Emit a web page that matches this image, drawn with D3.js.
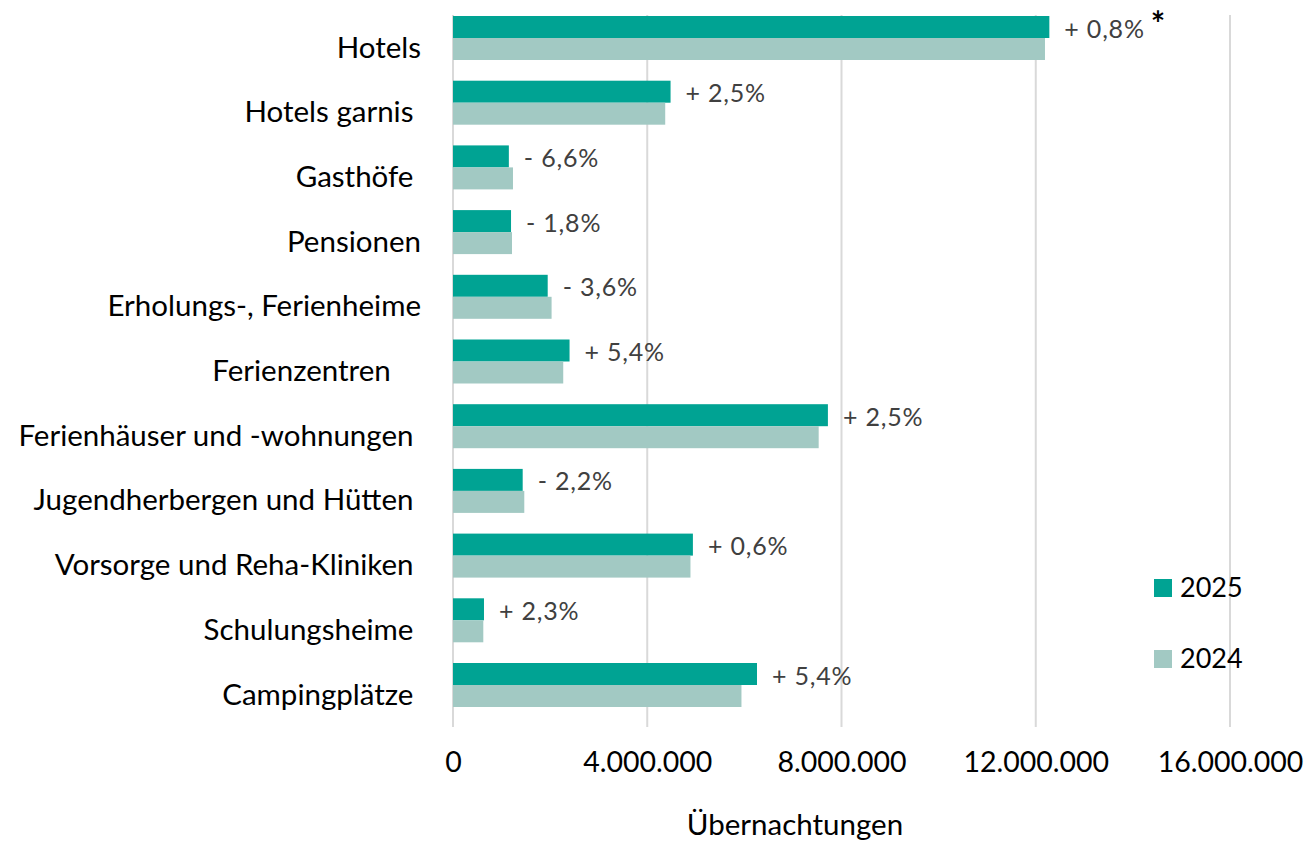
<!DOCTYPE html>
<html>
<head>
<meta charset="utf-8">
<script src="https://cdn.jsdelivr.net/npm/d3@7"></script>
<style>
  body { margin: 0; background: #fff; }
  svg text { font-family: Lato, "Open Sans", sans-serif; white-space: pre; }
</style>
</head>
<body>
<div id="chart"></div>
<script>
// categories as labelled in the source (trailing blanks kept)
const categories = [
  'Hotels',
  'Hotels garnis ',
  'Gasthöfe ',
  'Pensionen',
  'Erholungs-, Ferienheime',
  'Ferienzentren    ',
  'Ferienhäuser und -wohnungen ',
  'Jugendherbergen und Hütten ',
  'Vorsorge und Reha-Kliniken ',
  'Schulungsheime ',
  'Campingplätze '
];
const series = ['2025', '2024'];
const values2025 = [12280000, 4480000, 1150000, 1195000, 1950000, 2400000, 7720000, 1435000, 4940000, 638000, 6260000];
const values2024 = [12190000, 4370000, 1235000, 1215000, 2030000, 2270000, 7530000, 1468000, 4890000, 624000, 5940000];
const changeLabels = ['+ 0,8%', '+ 2,5%', '- 6,6%', '- 1,8%', '- 3,6%', '+ 5,4%', '+ 2,5%', '- 2,2%', '+ 0,6%', '+ 2,3%', '+ 5,4%'];
const changeNotes = ['*', '', '', '', '', '', '', '', '', '', ''];
const tickValues = [0, 4000000, 8000000, 12000000, 16000000];
const tickLabels = ['0', '4.000.000', '8.000.000', '12.000.000', '16.000.000'];
const axisTitle = 'Übernachtungen';

const width = 1307, height = 841;
const colors = { '2025': '#00A393', '2024': '#A2C9C3' };

const svg = d3.select('#chart').append('svg')
  .attr('width', width)
  .attr('height', height);

const x = d3.scaleLinear()
  .domain([0, 16000000])
  .range([453, 1230]);

const y = d3.scaleBand()
  .domain(categories)
  .range([16, 707])
  .paddingInner(0.32)
  .paddingOuter(0);

const ySub = d3.scaleBand()
  .domain(series)
  .range([0, y.bandwidth()]);

// gridlines
svg.append('g')
  .selectAll('line')
  .data(tickValues)
  .join('line')
  .attr('x1', d => x(d))
  .attr('x2', d => x(d))
  .attr('y1', 15)
  .attr('y2', 727)
  .attr('stroke', '#D9D9D9')
  .attr('stroke-width', 2);

// x axis labels
const xAxis = d3.axisBottom(x)
  .tickValues(tickValues)
  .tickFormat((d, i) => tickLabels[i])
  .tickSize(0)
  .tickPadding(0);

const axisG = svg.append('g')
  .attr('transform', 'translate(0, 752)')
  .call(xAxis);
axisG.select('.domain').remove();
axisG.selectAll('text')
  .attr('font-family', 'Lato, sans-serif')
  .attr('font-size', 28.5)
  .attr('fill', '#000');

svg.append('text')
  .attr('x', 795)
  .attr('y', 835)
  .attr('text-anchor', 'middle')
  .attr('font-size', 29.5)
  .attr('fill', '#000')
  .text(axisTitle);

// category labels
svg.append('g')
  .selectAll('text')
  .data(categories)
  .join('text')
  .attr('x', 421)
  .attr('y', d => y(d) + 41.5)
  .attr('text-anchor', 'end')
  .attr('font-size', 29.5)
  .attr('fill', '#000')
  .text(d => d);

// bars
const rows = categories.map((c, i) => ({ cat: c, '2025': values2025[i], '2024': values2024[i] }));

const groups = svg.append('g')
  .selectAll('g')
  .data(rows)
  .join('g')
  .attr('transform', d => `translate(0, ${y(d.cat)})`);

groups.selectAll('rect')
  .data(d => series.map(s => ({ s: s, v: d[s] })))
  .join('rect')
  .attr('x', x(0))
  .attr('y', d => ySub(d.s))
  .attr('width', d => x(d.v) - x(0))
  .attr('height', ySub.bandwidth())
  .attr('fill', d => colors[d.s]);

// change labels
const labels = svg.append('g')
  .selectAll('text')
  .data(rows)
  .join('text')
  .attr('x', (d, i) => x(values2025[i]) + 15)
  .attr('y', d => y(d.cat) + 21.5)
  .attr('font-size', 25)
  .attr('letter-spacing', 0.8)
  .attr('fill', '#404040')
  .text((d, i) => changeLabels[i]);

labels.filter((d, i) => changeNotes[i] !== '')
  .append('tspan')
  .attr('dx', 6)
  .attr('dy', -2)
  .attr('font-size', 34)
  .attr('font-weight', 'bold')
  .attr('fill', '#000')
  .text((d) => changeNotes[categories.indexOf(d.cat)]);

// legend
const legend = svg.append('g')
  .selectAll('g')
  .data(series)
  .join('g')
  .attr('transform', (d, i) => `translate(1154, ${579 + i * 71})`);

legend.append('rect')
  .attr('width', 18)
  .attr('height', 18)
  .attr('fill', d => colors[d]);

legend.append('text')
  .attr('x', 26)
  .attr('y', 18)
  .attr('font-size', 27)
  .attr('fill', '#000')
  .text(d => d);
</script>
</body>
</html>
